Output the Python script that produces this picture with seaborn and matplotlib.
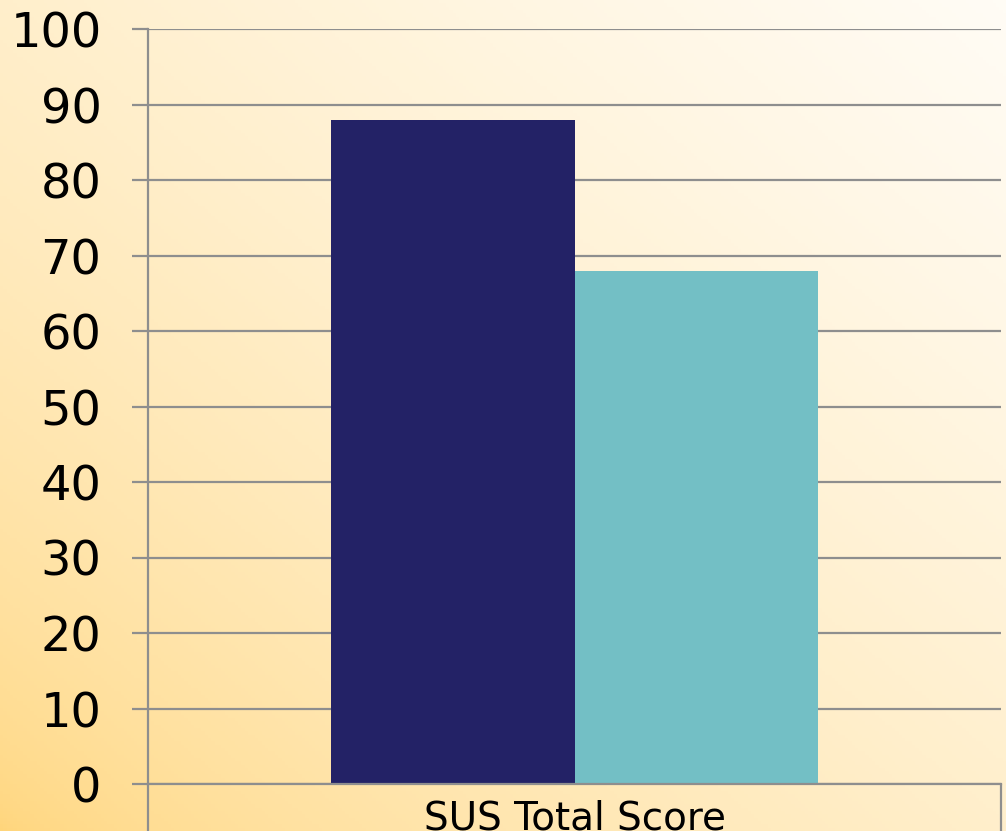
import numpy as np
import pandas as pd
import seaborn as sns
import matplotlib.pyplot as plt
from matplotlib.colors import LinearSegmentedColormap

# data
categories = ["SUS Total Score"]
groups = ["Study", "Benchmark"]
scores = [88, 68]
bar_colors = ["#232266", "#73BFC5"]
yticks = list(range(0, 101, 10))

df = pd.DataFrame({"category": categories * len(groups), "group": groups, "score": scores})

sns.set_theme(style="white")
plt.rcParams["font.family"] = ["DejaVu Sans"]

W, H = 1006, 831
fig = plt.figure(figsize=(W / 100, H / 100), dpi=100)

# diagonal warm gradient background
bg = fig.add_axes([0, 0, 1, 1], zorder=-1)
xx, yy = np.meshgrid(np.linspace(0, 1, 300), np.linspace(0, 1, 250))
t = ((xx + yy) / 2) ** 0.6
cmap = LinearSegmentedColormap.from_list("warm", ["#FFD57A", "#FFFCF5"])
bg.imshow(t, cmap=cmap, origin="lower", extent=[0, 1, 0, 1], aspect="auto")
bg.axis("off")

left, right, top, bottom = 148, 1001, 29, 784
ax = fig.add_axes([left / W, (H - bottom) / H, (right - left) / W, (bottom - top) / H])
ax.patch.set_alpha(0)

sns.barplot(data=df, x="category", y="score", hue="group", palette=bar_colors,
            width=0.572, saturation=1, legend=False, ax=ax, gap=0, linewidth=0)

ax.set_xlim(-0.5, 0.5)
ax.set_ylim(0, 100)
ax.set_yticks(yticks)
ax.set_xlabel("")
ax.set_ylabel("")

grid_c = "#8E8E8E"
ax.set_axisbelow(True)
ax.yaxis.grid(True, color=grid_c, linewidth=1.6)
ax.xaxis.grid(False)
for s in ["top", "right"]:
    ax.spines[s].set_visible(False)
for s in ["left", "bottom"]:
    ax.spines[s].set_color(grid_c)
    ax.spines[s].set_linewidth(1.6)

ax.tick_params(axis="y", left=True, length=11.5, width=1.6, color=grid_c,
               labelsize=34.5, labelcolor="black", pad=22)
ax.tick_params(axis="x", bottom=False, labelsize=28, labelcolor="black", pad=5)

# category box lines below the axis
for xv in [-0.5, 0.5]:
    ax.plot([xv, xv], [0, -10], color=grid_c, linewidth=1.6, clip_on=False)

fig.savefig("out.png", dpi=100)
